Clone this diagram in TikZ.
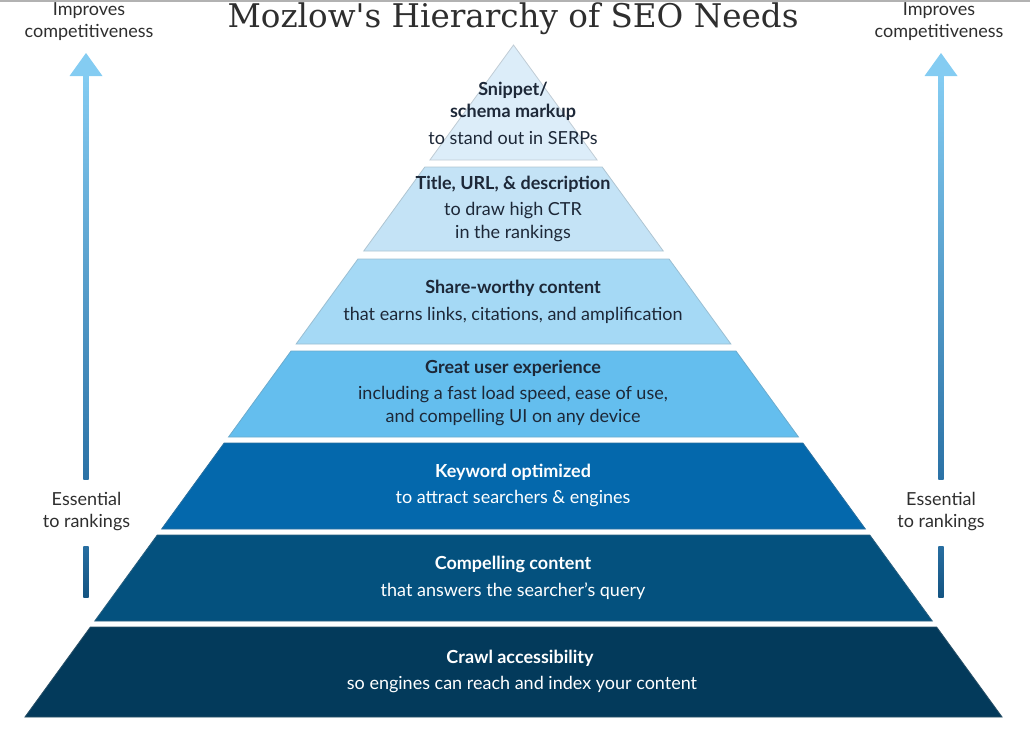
\documentclass[tikz,border=0pt]{standalone}
\usepackage{fontspec}
\setmainfont{Lato}
\newfontfamily\titlefont{DejaVu Serif}
\usetikzlibrary{calc}

\definecolor{bandA}{HTML}{DCEDF9}
\definecolor{bandB}{HTML}{C4E3F6}
\definecolor{bandC}{HTML}{A5D9F5}
\definecolor{bandD}{HTML}{64BEEE}
\definecolor{bandE}{HTML}{0468AC}
\definecolor{bandF}{HTML}{04517E}
\definecolor{bandG}{HTML}{033A5B}
\definecolor{inkdark}{HTML}{1D2838}
\definecolor{inkgray}{HTML}{2E2E2E}
\definecolor{arrowtop}{HTML}{84CCF2}
\definecolor{arrowmid}{HTML}{2B72A6}
\definecolor{arrowlow}{HTML}{145482}

\tikzset{
  band/.style={fill=#1, draw=#1!70!gray, line width=0.8pt},
  head/.style={font=\fontsize{18}{22}\selectfont\bfseries, align=center, text=#1},
  body/.style={font=\fontsize{18}{23}\selectfont, align=center, text=#1},
  side/.style={font=\fontsize{18}{22}\selectfont, align=center, text=inkgray}
}

\begin{document}
\begin{tikzpicture}[x=1pt,y=-1pt]
\useasboundingbox (0,0) rectangle (1030,753);
\draw[gray!60, line width=1.5pt] (0,0.75) -- (1030,0.75);

% the seven slices of the pyramid
\foreach \t/\b/\c in {45/160/bandA, 167/251/bandB, 259/344/bandC, 351/437/bandD,
                      443/529/bandE, 535/621/bandF, 627/717/bandG}
	{
	\pgfmathsetmacro\wt{0.727*(\t-45)}
	\pgfmathsetmacro\wb{0.727*(\b-45)}
	\draw[band=\c] ({513.5-\wt},\t) -- ({513.5+\wt},\t)
		-- ({513.5+\wb},\b) -- ({513.5-\wb},\b) -- cycle;
	}

\node[font=\titlefont\fontsize{32.6}{36}\selectfont, text=inkgray] (title) at (513,18.5)
	{Mozlow{\char"0027}s Hierarchy of SEO Needs};

% texts of the slices
\node[head=inkdark] (snippet) at (513,101) {Snippet/\\schema markup};
\node[body=inkdark] (snippetb) at (513,138) {to stand out in SERPs};
\node[head=inkdark] (title2) at (513,184) {Title, URL, \& description};
\node[body=inkdark] (title2b) at (513,222.5) {to draw high CTR\\in the rankings};
\node[head=inkdark] (share) at (513,288) {Share-worthy content};
\node[body=inkdark] (shareb) at (513,315) {that earns links, citations, and amplification};
\node[head=inkdark] (ux) at (513,368) {Great user experience};
\node[body=inkdark] (uxb) at (513,406.5) {including a fast load speed, ease of use,\\and compelling UI on any device};
\node[head=white] (keyword) at (513,472) {Keyword optimized};
\node[body=white] (keywordb) at (513,499) {to attract searchers \& engines};
\node[head=white] (content) at (513,564) {Compelling content};
\node[body=white] (contentb) at (513,591) {that answers the searcher’s query};
\node[head=white] (crawl) at (520,658) {Crawl accessibility};
\node[body=white] (crawlb) at (522,685) {so engines can reach and index your content};

% arrows at both sides
\foreach \x in {86, 941}
	{
	\coordinate (tip) at (\x,53);
	\coordinate (gaptop) at (\x,479);
	\coordinate (gapbot) at (\x,546);
	\coordinate (foot) at (\x,597);
	\shade[top color=arrowtop, bottom color=arrowmid] ($(\x,75)+(-2.6,0)$) rectangle ($(gaptop)+(2.6,0)$);
	\shade[top color=arrowmid!85!arrowlow, bottom color=arrowlow] ($(gapbot)+(-2.6,0)$) rectangle ($(foot)+(2.6,0)$);
	\fill[arrowtop] ($(tip)+(-16.5,23)$) -- (tip) -- ($(tip)+(16.5,23)$) -- cycle;
	}

\node[side] (improvesL) at (89,22) {Improves\\competitiveness};
\node[side] (improvesR) at (939,22) {Improves\\competitiveness};
\node[side] (essentialL) at (86.5,511.5) {Essential\\to rankings};
\node[side] (essentialR) at (941,511.5) {Essential\\to rankings};
\end{tikzpicture}
\end{document}
